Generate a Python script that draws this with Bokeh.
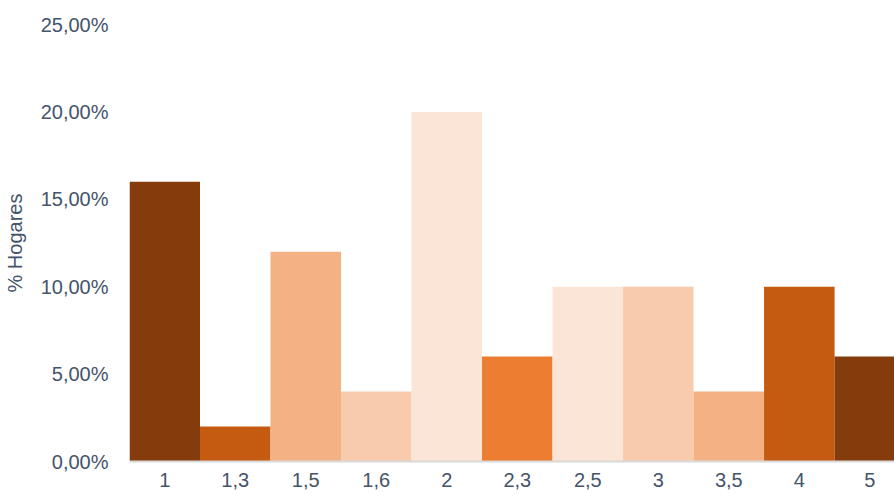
from bokeh.plotting import figure
from bokeh.models import ColumnDataSource, Range1d, FixedTicker, CustomJSTickFormatter
from bokeh.embed import file_html
from bokeh.resources import INLINE

categories = ["1", "1,3", "1,5", "1,6", "2", "2,3", "2,5", "3", "3,5", "4", "5"]
values = [16, 2, 12, 4, 20, 6, 10, 10, 4, 10, 6]  # % hogares
colors = ["#843C0C", "#C55A11", "#F4B183", "#F8CBAD", "#FBE5D6", "#ED7D31",
          "#FBE5D6", "#F8CBAD", "#F4B183", "#C55A11", "#843C0C"]
y_ticks = [0, 5, 10, 15, 20, 25]

FONT = "Liberation Sans"
TXT = "#44546A"

xs = list(range(len(categories)))
src = ColumnDataSource(dict(x=xs, top=values, color=colors))

p = figure(width=894, height=496, output_backend="svg", toolbar_location=None,
           x_range=Range1d(-0.5, 10.35), y_range=Range1d(0, 25),
           min_border_left=128, min_border_right=0, min_border_top=24, min_border_bottom=35)
p.vbar(x="x", top="top", width=1.0, bottom=0, fill_color="color", line_color=None, source=src)

p.outline_line_color = None
p.xgrid.grid_line_color = None
p.ygrid.grid_line_color = None

p.xaxis.ticker = FixedTicker(ticks=xs)
p.xaxis.major_label_overrides = {i: c for i, c in enumerate(categories)}
p.xaxis.axis_line_color = "#D9D9D9"
p.xaxis.axis_line_width = 2
p.xaxis.major_tick_line_color = None
p.xaxis.minor_tick_line_color = None
p.xaxis.major_tick_out = 0
p.xaxis.major_label_standoff = 11
p.xaxis.major_label_text_font = FONT
p.xaxis.major_label_text_font_size = "20px"
p.xaxis.major_label_text_color = TXT

p.yaxis.ticker = FixedTicker(ticks=y_ticks)
p.yaxis.formatter = CustomJSTickFormatter(code="return tick.toFixed(2).replace('.', ',') + '%';")
p.yaxis.axis_line_color = None
p.yaxis.major_tick_line_color = None
p.yaxis.minor_tick_line_color = None
p.yaxis.major_tick_out = 0
p.yaxis.major_label_standoff = 21
p.yaxis.major_label_text_font = FONT
p.yaxis.major_label_text_font_size = "20px"
p.yaxis.major_label_text_color = TXT
p.yaxis.axis_label = "% Hogares"
p.yaxis.axis_label_text_font = FONT
p.yaxis.axis_label_text_font_size = "20px"
p.yaxis.axis_label_text_font_style = "normal"
p.yaxis.axis_label_text_color = TXT
p.yaxis.axis_label_standoff = 12

open("out.html", "w").write(file_html(p, INLINE))
